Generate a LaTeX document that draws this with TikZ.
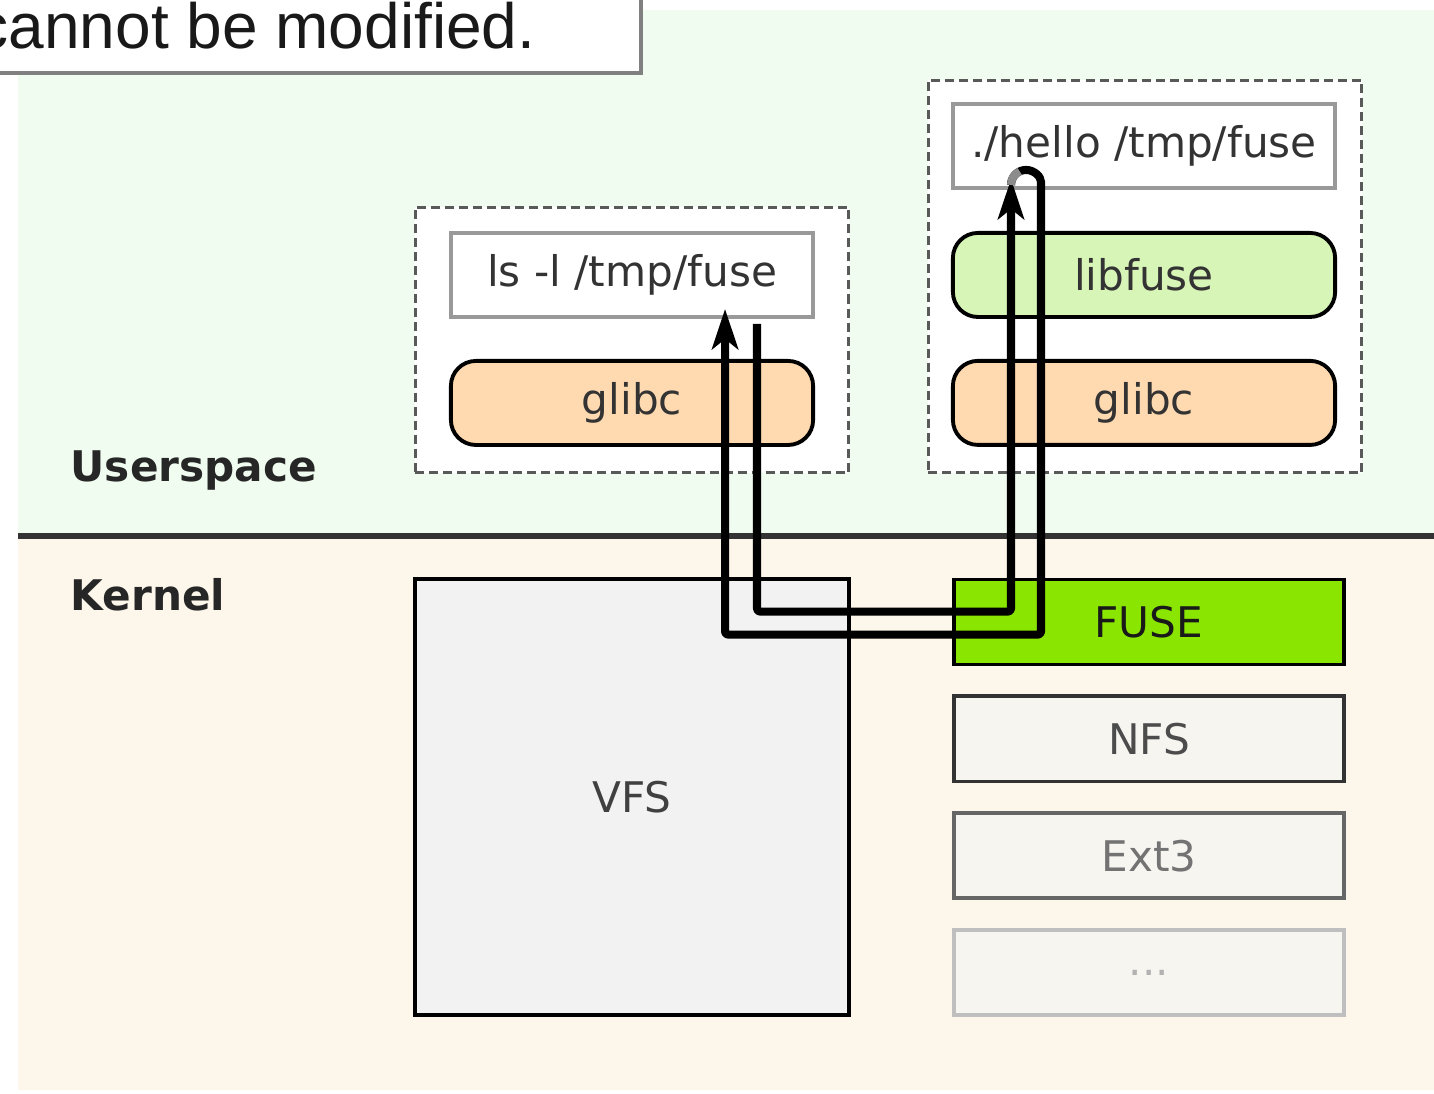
\documentclass[tikz,border=0pt]{standalone}
\usepackage{fontspec}
\setmainfont{DejaVu Sans}
\newfontfamily\notefont{Liberation Sans}
\usetikzlibrary{arrows.meta, positioning}

\definecolor{userbg}{RGB}{241,252,241}
\definecolor{kernelbg}{RGB}{253,246,234}
\definecolor{glibcfill}{RGB}{255,218,176}
\definecolor{libfusefill}{RGB}{216,245,184}
\definecolor{fusefill}{RGB}{138,230,0}
\definecolor{vfsfill}{RGB}{242,242,242}
\definecolor{fsfill}{RGB}{247,245,240}

\begin{document}
\begin{tikzpicture}[
    x=0.01cm, y=-0.01cm,
    font=\fontsize{12}{14}\selectfont,
    cmd/.style={rectangle, draw=black!40, line width=1.1pt, fill=white, minimum width=3.62cm, minimum height=0.84cm, inner sep=0pt, text=black!80},
    lib/.style={rectangle, rounded corners=0.25cm, draw=black, line width=1.1pt, minimum width=3.62cm, minimum height=0.84cm, inner sep=0pt, text=black!80},
    group/.style={rectangle, draw=black!65, line width=0.85pt, dash pattern=on 0.09cm off 0.05cm, fill=white, minimum width=4.33cm, inner sep=0pt},
    fsbox/.style={rectangle, line width=1.1pt, fill=fsfill, minimum width=3.9cm, minimum height=0.85cm, inner sep=0pt},
    zone/.style={font=\fontsize{12}{14}\selectfont\bfseries, text=black!85, anchor=west, inner sep=0pt},
    flow/.style={line width=2.3pt, line join=round, rounded corners=0.03cm},
    tip/.style={-{Stealth[length=0.4cm, width=0.26cm, inset=0.1cm]}}
]
    \useasboundingbox (0,0) rectangle (1434,1093);
    \clip (0,0) rectangle (1434,1093);

    % Background
    \fill[userbg] (18,10) rectangle (1434,536);
    \fill[kernelbg] (18,536) rectangle (1434,1090);
    \draw[black!80, line width=1.7pt] (18,536) -- (1434,536);
    \draw[black!50, line width=1.4pt, fill=white] (-50,-50) rectangle (641,73);
    \node[anchor=base west, inner sep=0pt, font=\notefont\fontsize{18.2}{20}\selectfont, text=black!90] (note) at (-24,48) {cannot be modified.};

    \node[zone] (user) at (70,470) {Userspace};
    \node[zone] (kern) at (70,595) {Kernel};

    % Userspace programs
    \node[group, minimum height=2.65cm] (lsgroup) at (632,340) {};
    \node[group, minimum height=3.92cm] (hellogroup) at (1145,276.5) {};

    \node[cmd] (ls) at (632,275) {ls -l /tmp/fuse};
    \node[lib, fill=glibcfill, below=0.40cm of ls] (glibcA) {glibc};

    \node[cmd, minimum width=3.82cm] (hello) at (1144,146) {./hello /tmp/fuse};
    \node[lib, fill=libfusefill, minimum width=3.82cm, below=0.41cm of hello] (libfuse) {libfuse};
    \node[lib, fill=glibcfill, minimum width=3.82cm, below=0.40cm of libfuse] (glibcB) {glibc};

    % Kernel
    \node[rectangle, draw=black, line width=1.1pt, fill=vfsfill, minimum width=4.33cm, minimum height=4.36cm, text=black!75] (vfs) at (632,797) {VFS};
    \node[fsbox, draw=black, fill=fusefill, text=black!90] (fuse) at (1149,622) {FUSE};
    \node[fsbox, draw=black!80, text=black!70, below=0.28cm of fuse] (nfs) {NFS};
    \node[fsbox, draw=black!60, text=black!55, below=0.28cm of nfs] (ext) {Ext3};
    \node[fsbox, draw=black!25, text=black!30, below=0.28cm of ext] (more) {...};

    % Arrows
    \draw[flow, tip] ([xshift=-0.58cm, yshift=-0.05cm]ls.south east) |- ([yshift=-0.34cm]fuse.north west) -| ([xshift=0.6cm, yshift=0.11cm]hello.south west);
    \draw[flow, tip] ([xshift=0.6cm, yshift=0.05cm]hello.south west) arc[start angle=180, end angle=0, radius=0.15cm] |- ([yshift=-0.57cm]fuse.north west) -| ([xshift=0.93cm, yshift=0.1cm]ls.south);
    \draw[line width=2.3pt, black!45] ([xshift=0.6cm, yshift=0.05cm]hello.south west) arc[start angle=180, end angle=115, radius=0.15cm];
\end{tikzpicture}
\end{document}
